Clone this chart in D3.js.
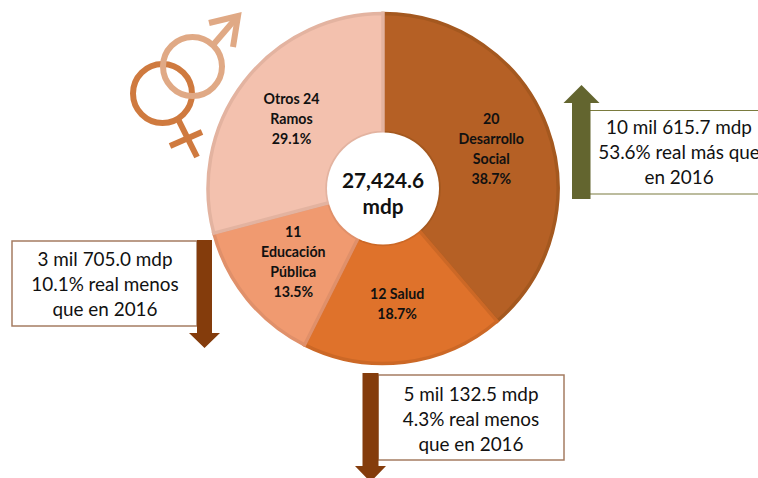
<!DOCTYPE html>
<html>
<head>
<meta charset="utf-8">
<script src="https://cdn.jsdelivr.net/npm/d3@7"></script>
<style>
  html, body { margin: 0; padding: 0; background: #fff; }
  text { font-family: Lato, "Open Sans", sans-serif; fill: #111; }
</style>
</head>
<body>
<svg id="chart" width="758" height="478"></svg>
<script>
// ramos, shares
const ramos = [["20", "Desarrollo", "Social"], ["12 Salud"], ["11", "Educación", "Pública"], ["Otros 24", "Ramos"]];
const shares = [38.7, 18.7, 13.5, 29.1];
const sliceColors = ["#B56025", "#DF722B", "#F09A70", "#F3C1AE"];
const edgeColors = ["#A4581F", "#CC6826", "#E0906A", "#E3B3A0"];
const totalLines = ["27,424.6", "mdp"];

const noteLines = [
    ["10 mil 615.7 mdp", "53.6% real más que", "en 2016"],
    ["5 mil 132.5 mdp", "4.3% real menos", "que en 2016"],
    ["3 mil 705.0 mdp", "10.1% real menos", "que en 2016"]
];

const svg = d3.select("#chart");
const cx = 383, cy = 188.5, outerR = 175, innerR = 56;

const pie = d3.pie().sort(null).value(d => d);
const arc = d3.arc().innerRadius(innerR).outerRadius(outerR);
const arcs = pie(shares);

const donut = svg.append("g").attr("transform", "translate(" + cx + "," + cy + ")");

donut.selectAll(".slice")
    .data(arcs)
    .enter().append("path")
    .attr("class", "slice")
    .attr("d", arc)
    .attr("fill", (d, i) => sliceColors[i])
    .attr("stroke", (d, i) => edgeColors[i])
    .attr("stroke-width", 3.5);

donut.append("circle").attr("r", innerR).attr("fill", "#fff");

donut.selectAll(".slice-label")
    .data(arcs)
    .enter().append("text")
    .attr("class", "slice-label")
    .attr("text-anchor", "middle")
    .attr("font-size", 14.2)
    .attr("font-weight", 700)
    .each(function (d, i) {
        const [x, y] = arc.centroid(d);
        const lines = ramos[i].concat(shares[i].toFixed(1) + "%");
        const top = y - (lines.length - 1) * 10 + 5.5;
        d3.select(this).selectAll("tspan")
            .data(lines)
            .enter().append("tspan")
            .attr("x", x)
            .attr("y", (l, k) => top + k * 20)
            .text(l => l);
    });

donut.selectAll(".total")
    .data(totalLines)
    .enter().append("text")
    .attr("class", "total")
    .attr("text-anchor", "middle")
    .attr("font-size", 20.8)
    .attr("font-weight", 700)
    .attr("y", (d, i) => -1 + i * 26.5)
    .text(d => d);

// gender symbols
const female = svg.append("g").attr("stroke", "#CF7A3F").attr("fill", "none").attr("stroke-width", 6);
female.append("circle").attr("cx", 162.5).attr("cy", 93.5).attr("r", 29.5);
female.append("line").attr("x1", 178).attr("y1", 119).attr("x2", 197).attr("y2", 157);
female.append("line").attr("x1", 170).attr("y1", 146).attr("x2", 202).attr("y2", 132);

const male = svg.append("g").attr("stroke", "#E0A985").attr("fill", "none").attr("stroke-width", 6);
male.append("circle").attr("cx", 192.5).attr("cy", 66.5).attr("r", 29.5);
male.append("line").attr("x1", 213).attr("y1", 45).attr("x2", 238).attr("y2", 16);
male.append("path").attr("stroke-linejoin", "miter").attr("d", "M209,23L238,16L233,47");

// note boxes and arrows
function noteText(lines, x, y0) {
    svg.append("text")
        .attr("text-anchor", "middle")
        .attr("font-size", 18.9)
        .selectAll("tspan")
        .data(lines)
        .enter().append("tspan")
        .attr("x", x)
        .attr("y", (d, i) => y0 + i * 25)
        .text(d => d);
}

// right note, box runs off the page
svg.append("line").attr("x1", 590).attr("x2", 758).attr("y1", 110.5).attr("y2", 110.5).attr("stroke", "#7A7B3E").attr("stroke-width", 1.2);
svg.append("line").attr("x1", 590).attr("x2", 758).attr("y1", 194).attr("y2", 194).attr("stroke", "#7A7B3E").attr("stroke-width", 1.2);
svg.append("path").attr("fill", "#63652F").attr("d", "M572,199V103H563.5L581.5,85L599.5,103H590.5V199Z");
noteText(noteLines[0], 679, 134);

// bottom note
svg.append("rect").attr("x", 378).attr("y", 375).attr("width", 186).attr("height", 85).attr("fill", "#fff").attr("stroke", "#A57C62").attr("stroke-width", 1.5);
svg.append("path").attr("fill", "#843C0C").attr("d", "M362.5,373H378.5V466H386L370.5,482L355,466H362.5Z");
noteText(noteLines[1], 471, 400.5);

// left note
svg.append("rect").attr("x", 12).attr("y", 241).attr("width", 185).attr("height", 85).attr("fill", "#fff").attr("stroke", "#A57C62").attr("stroke-width", 1.5);
svg.append("path").attr("fill", "#843C0C").attr("d", "M197,240H212V333H220L204.5,348L189,333H197Z");
noteText(noteLines[2], 105, 265.5);
</script>
</body>
</html>
